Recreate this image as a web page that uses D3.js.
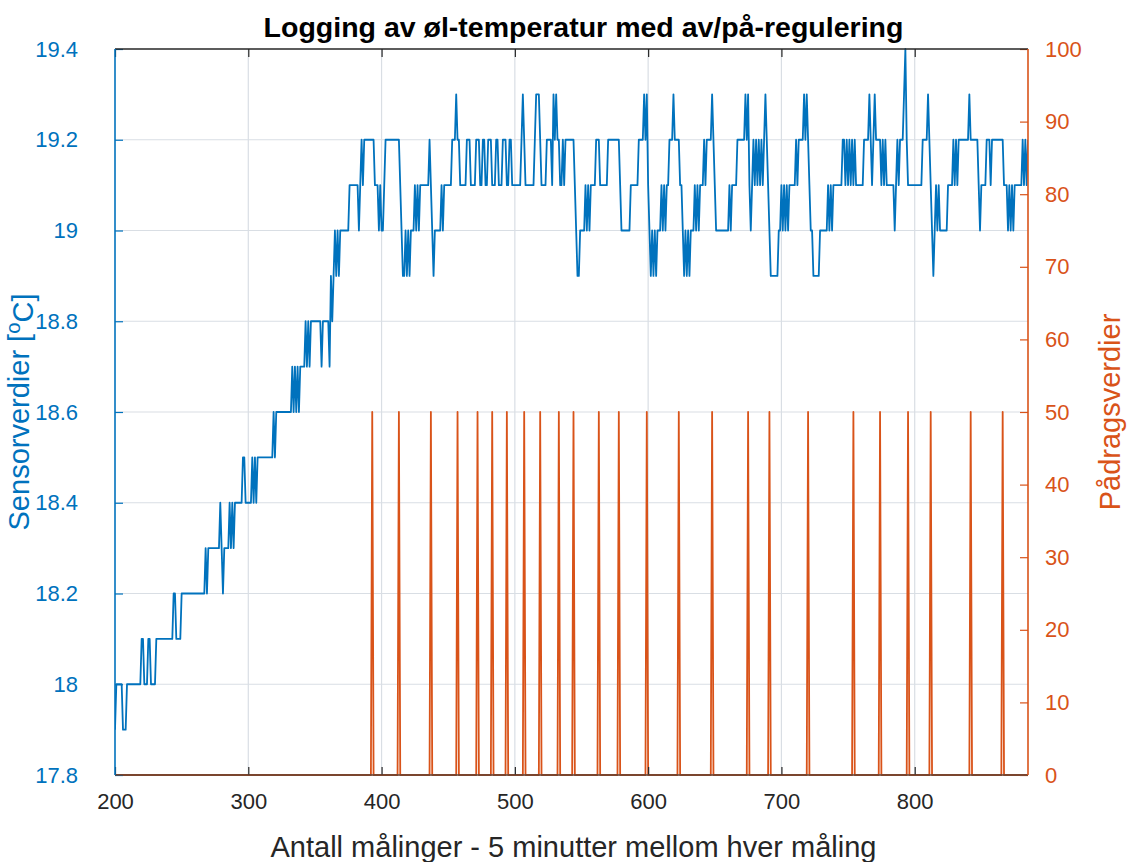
<!DOCTYPE html>
<html>
<head>
<meta charset="utf-8">
<script src="https://cdn.jsdelivr.net/npm/d3@7"></script>
<style>
  html, body { margin: 0; padding: 0; background: #fff; }
  svg { display: block; font-family: "Liberation Sans", Arial, Helvetica, sans-serif; }
</style>
</head>
<body>
<svg id="chart" width="1133" height="862"></svg>
<script>
// ---------------- DATA ----------------
const titleText = "Logging av øl-temperatur med av/på-regulering";
const xLabelText = "Antall målinger - 5 minutter mellom hver måling";
const rightLabelText = "Pådragsverdier";

const xDomain = [200, 885];
const xTicks = [200, 300, 400, 500, 600, 700, 800];
const leftDomain = [17.8, 19.4];
const leftTicks = [17.8, 18.0, 18.2, 18.4, 18.6, 18.8, 19.0, 19.2, 19.4];
const leftTickLabels = ["17.8", "18", "18.2", "18.4", "18.6", "18.8", "19", "19.2", "19.4"];
const rightDomain = [0, 100];
const rightTicks = [0, 10, 20, 30, 40, 50, 60, 70, 80, 90, 100];

// Sensor values as runs: [first sample index, temperature held from there]
const tempRuns = [
  [200,17.9],[201,18.0],[206,17.9],[209,18.0],[220,18.1],[222,18.0],[225,18.1],[227,18.0],
  [231,18.1],[244,18.2],[246,18.1],[250,18.2],[268,18.3],[269,18.2],[270,18.3],[279,18.4],
  [280,18.3],[281,18.2],[282,18.3],[286,18.4],[287,18.3],[288,18.4],[289,18.3],[290,18.4],
  [296,18.5],[298,18.4],[303,18.5],[304,18.4],[305,18.5],[306,18.4],[307,18.5],[319,18.6],
  [320,18.5],[321,18.6],[333,18.7],[334,18.6],[335,18.7],[336,18.6],[337,18.7],[338,18.6],
  [339,18.7],[343,18.8],[344,18.7],[345,18.8],[346,18.7],[347,18.8],[355,18.7],[356,18.8],
  [361,18.7],[362,18.9],[363,18.8],[364,18.9],[365,19.0],[366,18.9],[367,19.0],[368,18.9],
  [369,19.0],[376,19.1],[383,19.0],[384,19.1],[385,19.2],[386,19.1],[387,19.2],[395,19.1],
  [398,19.0],[399,19.1],[400,19.0],[402,19.1],[403,19.2],[414,19.1],[415,19.0],[416,18.9],
  [418,19.0],[419,18.9],[420,19.0],[421,18.9],[422,19.0],[425,19.1],[426,19.0],[427,19.1],
  [428,19.0],[429,19.1],[436,19.2],[437,19.1],[438,19.0],[439,18.9],[440,19.0],[445,19.1],
  [446,19.0],[447,19.1],[453,19.2],[456,19.3],[457,19.2],[459,19.1],[464,19.2],[467,19.1],
  [471,19.2],[474,19.1],[476,19.2],[478,19.1],[480,19.2],[483,19.1],[486,19.2],[488,19.1],
  [491,19.2],[494,19.1],[496,19.2],[498,19.1],[505,19.2],[506,19.3],[507,19.2],[508,19.1],
  [515,19.2],[516,19.3],[519,19.2],[520,19.1],[524,19.2],[528,19.1],[529,19.3],[530,19.2],
  [531,19.3],[532,19.2],[534,19.1],[536,19.2],[537,19.1],[538,19.2],[545,19.1],[546,19.0],
  [547,18.9],[549,19.0],[553,19.1],[554,19.0],[555,19.1],[556,19.0],[557,19.1],[561,19.2],
  [564,19.1],[570,19.2],[579,19.1],[580,19.0],[587,19.1],[593,19.2],[597,19.3],[598,19.2],
  [599,19.3],[600,19.1],[601,19.0],[602,18.9],[603,19.0],[604,18.9],[605,19.0],[606,18.9],
  [607,19.0],[610,19.1],[611,19.0],[612,19.1],[613,19.0],[614,19.1],[616,19.2],[619,19.3],
  [620,19.2],[624,19.1],[626,19.0],[627,18.9],[628,19.0],[629,18.9],[630,19.0],[631,18.9],
  [632,19.0],[635,19.1],[636,19.0],[637,19.1],[638,19.0],[639,19.1],[642,19.2],[643,19.1],
  [644,19.2],[648,19.3],[649,19.2],[650,19.1],[651,19.0],[661,19.1],[662,19.0],[663,19.1],
  [667,19.2],[673,19.3],[674,19.2],[675,19.3],[676,19.1],[677,19.0],[678,19.1],[679,19.2],
  [680,19.1],[681,19.2],[682,19.1],[683,19.2],[684,19.1],[685,19.2],[686,19.1],[687,19.2],
  [688,19.3],[689,19.2],[690,19.1],[691,19.0],[692,18.9],[698,19.0],[700,19.1],[701,19.0],
  [702,19.1],[703,19.0],[704,19.1],[705,19.0],[706,19.1],[711,19.2],[712,19.1],[713,19.2],
  [717,19.3],[718,19.2],[719,19.3],[720,19.2],[721,19.1],[722,19.0],[724,18.9],[729,19.0],
  [735,19.1],[736,19.0],[737,19.1],[738,19.0],[739,19.1],[746,19.2],[748,19.1],[749,19.2],
  [750,19.1],[751,19.2],[752,19.1],[753,19.2],[754,19.1],[755,19.2],[756,19.1],[762,19.2],
  [766,19.3],[767,19.2],[768,19.1],[769,19.2],[770,19.3],[771,19.2],[775,19.1],[776,19.2],
  [777,19.1],[778,19.2],[779,19.1],[785,19.0],[786,19.1],[787,19.2],[788,19.1],[789,19.2],
  [792,19.3],[793,19.4],[794,19.2],[795,19.1],[806,19.2],[810,19.3],[811,19.2],[812,19.1],
  [813,19.0],[814,18.9],[815,19.0],[816,19.1],[817,19.0],[818,19.1],[819,19.0],[825,19.1],
  [829,19.2],[830,19.1],[831,19.2],[832,19.1],[833,19.2],[841,19.3],[842,19.2],[848,19.1],
  [849,19.0],[850,19.1],[854,19.2],[857,19.1],[858,19.2],[867,19.1],[870,19.0],[871,19.1],
  [872,19.0],[873,19.1],[874,19.0],[875,19.1],[881,19.2],[882,19.1],[883,19.2],[884,19.1],
  [885,19.2]
];

// Control signal: 0 except short pulses to this level at these sample indices
const controlPulseIdx = [393, 413, 437, 457, 472, 483, 494, 507, 519, 533, 544, 563, 578,
  599, 623, 648, 675, 691, 720, 754, 774, 795, 812, 842, 866];
const controlPulseLevel = 50;
const controlBase = 0;

// ---------------- LAYOUT / STYLE ----------------
const plot = { left: 115, right: 1028, top: 49, bottom: 775 };
const blue = "#0072BD", orange = "#D95319", dark = "#262626", grid = "#d9dee4";
const tickFont = 22, labelFont = 29, titleFont = 28.5;

const svg = d3.select("#chart");

const x = d3.scaleLinear().domain(xDomain).range([plot.left, plot.right]);
const yL = d3.scaleLinear().domain(leftDomain).range([plot.bottom, plot.top]);
const yR = d3.scaleLinear().domain(rightDomain).range([plot.bottom, plot.top]);

// build series points
const tempPts = [];
tempRuns.forEach((r, i) => {
  const end = i < tempRuns.length - 1 ? tempRuns[i + 1][0] - 1 : r[0];
  tempPts.push([r[0], r[1]]);
  if (end > r[0]) tempPts.push([end, r[1]]);
});
const ctrlPts = [[xDomain[0], controlBase]];
controlPulseIdx.forEach(k => {
  ctrlPts.push([k - 1, controlBase], [k, controlPulseLevel], [k + 1, controlBase]);
});
ctrlPts.push([xDomain[1], controlBase]);

svg.append("defs").append("clipPath").attr("id", "clip")
  .append("rect").attr("x", plot.left).attr("y", plot.top - 2)
  .attr("width", plot.right - plot.left).attr("height", plot.bottom - plot.top + 4);

// grid
const gGrid = svg.append("g");
gGrid.selectAll("line.v").data(xTicks.slice(1)).join("line")
  .attr("x1", d => x(d)).attr("x2", d => x(d))
  .attr("y1", plot.top).attr("y2", plot.bottom)
  .attr("stroke", grid).attr("stroke-width", 1.2);
gGrid.selectAll("line.h").data(leftTicks.slice(1, -1)).join("line")
  .attr("y1", d => yL(d)).attr("y2", d => yL(d))
  .attr("x1", plot.left).attr("x2", plot.right)
  .attr("stroke", grid).attr("stroke-width", 1.2);

// lines
const gLines = svg.append("g").attr("clip-path", "url(#clip)");
gLines.append("path").datum(ctrlPts)
  .attr("d", d3.line().x(d => x(d[0])).y(d => yR(d[1])))
  .attr("fill", "none").attr("stroke", orange).attr("stroke-width", 1.8)
  .attr("stroke-linejoin", "round");
gLines.append("path").datum(tempPts)
  .attr("d", d3.line().x(d => x(d[0])).y(d => yL(d[1])))
  .attr("fill", "none").attr("stroke", blue).attr("stroke-width", 1.8)
  .attr("stroke-linejoin", "round");

// axes
function styleAxis(g, color) {
  g.select(".domain").remove();
  g.selectAll(".tick line").attr("stroke", color).attr("stroke-width", 1.2);
  g.selectAll(".tick text").attr("fill", color).style("font-size", tickFont + "px")
    .style("font-family", "'Liberation Sans', Arial, sans-serif");
}
const xAxis = svg.append("g").attr("transform", `translate(0,${plot.bottom})`)
  .call(d3.axisBottom(x).tickValues(xTicks).tickFormat(d3.format("d"))
    .tickSizeInner(-8).tickSizeOuter(0).tickPadding(18));
styleAxis(xAxis, dark);
const xAxisTop = svg.append("g").attr("transform", `translate(0,${plot.top})`)
  .call(d3.axisTop(x).tickValues(xTicks).tickFormat("").tickSizeInner(-8).tickSizeOuter(0));
styleAxis(xAxisTop, dark);

const lAxis = svg.append("g").attr("transform", `translate(${plot.left},0)`)
  .call(d3.axisLeft(yL).tickValues(leftTicks)
    .tickFormat((d, i) => leftTickLabels[i]).tickSizeInner(-8).tickSizeOuter(0).tickPadding(37));
styleAxis(lAxis, blue);

const rAxis = svg.append("g").attr("transform", `translate(${plot.right},0)`)
  .call(d3.axisRight(yR).tickValues(rightTicks).tickFormat(d3.format("d"))
    .tickSizeInner(-8).tickSizeOuter(0).tickPadding(17));
styleAxis(rAxis, orange);

// frame lines
svg.append("line").attr("x1", plot.left).attr("x2", plot.right)
  .attr("y1", plot.top).attr("y2", plot.top).attr("stroke", dark).attr("stroke-width", 1.4);
svg.append("line").attr("x1", plot.left).attr("x2", plot.right)
  .attr("y1", plot.bottom).attr("y2", plot.bottom).attr("stroke", "#5a4036").attr("stroke-width", 1.4);
svg.append("line").attr("x1", plot.left).attr("x2", plot.left)
  .attr("y1", plot.top).attr("y2", plot.bottom).attr("stroke", blue).attr("stroke-width", 1.6);
svg.append("line").attr("x1", plot.right).attr("x2", plot.right)
  .attr("y1", plot.top).attr("y2", plot.bottom).attr("stroke", orange).attr("stroke-width", 1.6);

// title
svg.append("text").attr("x", (plot.left + plot.right) / 2 + 12).attr("y", 37)
  .attr("text-anchor", "middle").attr("font-weight", "bold")
  .style("font-size", titleFont + "px").attr("fill", "#000").text(titleText);

// x label
svg.append("text").attr("x", (plot.left + plot.right) / 2 + 2).attr("y", 857)
  .attr("text-anchor", "middle").style("font-size", labelFont + "px")
  .attr("fill", dark).text(xLabelText);

// left y label with superscript
const ly = svg.append("text")
  .attr("transform", `translate(29,${(plot.top + plot.bottom) / 2}) rotate(-90)`)
  .attr("text-anchor", "middle").style("font-size", labelFont + "px").attr("fill", blue);
ly.append("tspan").text("Sensorverdier [");
ly.append("tspan").attr("dy", "-0.45em").style("font-size", (labelFont * 0.7) + "px").text("o");
ly.append("tspan").attr("dy", "0.45em").text("C]");

// right y label
svg.append("text")
  .attr("transform", `translate(1120,${(plot.top + plot.bottom) / 2}) rotate(-90)`)
  .attr("text-anchor", "middle").style("font-size", labelFont + "px").attr("fill", orange)
  .text(rightLabelText);
</script>
</body>
</html>
